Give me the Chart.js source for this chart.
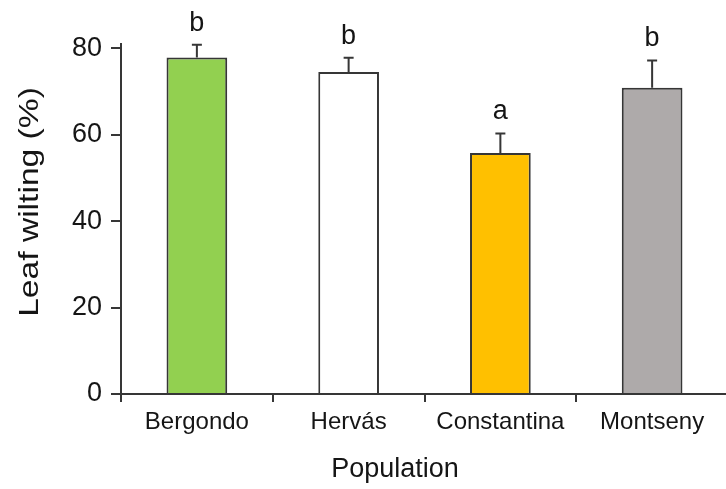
<!DOCTYPE html>
<html>
<head>
<meta charset="utf-8">
<script src="https://cdn.jsdelivr.net/npm/chart.js@4/dist/chart.umd.min.js"></script>
<style>
  html, body { margin: 0; padding: 0; overflow: hidden; background: #fff; }
  #wrap { position: relative; width: 730px; height: 489px; }
</style>
</head>
<body>
<div id="wrap"><canvas id="c"></canvas></div>
<script>
// Leaf wilting by population: means, upper standard errors and group letters
const populations = ['Bergondo', 'Hervás', 'Constantina', 'Montseny'];
const wiltingMean = [77.9, 74.5, 55.8, 70.9];
const wiltingErr = [2.9, 3.3, 4.5, 6.3];
const groupLetters = ['b', 'b', 'a', 'b'];
const barColors = ['#92D050', '#FFFFFF', '#FFC000', '#AEAAAA'];
const yTicks = [0, 20, 40, 60, 80];

const FONT = "'Liberation Sans', Arial, sans-serif";
const INK = '#151515';
const LINE = '#363636';

// Upper error whiskers plus significance letters above each bar
const errorBarPlugin = {
  id: 'errorBars',
  afterDatasetsDraw(chart) {
    const ctx = chart.ctx;
    const meta = chart.getDatasetMeta(0);
    const y = chart.scales.y;
    ctx.save();
    ctx.strokeStyle = LINE;
    ctx.lineWidth = 2;
    meta.data.forEach((bar, i) => {
      const yBar = y.getPixelForValue(wiltingMean[i]);
      const yTop = y.getPixelForValue(wiltingMean[i] + wiltingErr[i]);
      ctx.beginPath();
      ctx.moveTo(bar.x, yBar);
      ctx.lineTo(bar.x, yTop);
      ctx.moveTo(bar.x - 5, yTop);
      ctx.lineTo(bar.x + 5, yTop);
      ctx.stroke();
      ctx.fillStyle = INK;
      ctx.font = '27px ' + FONT;
      ctx.textAlign = 'center';
      ctx.textBaseline = 'alphabetic';
      ctx.fillText(groupLetters[i], bar.x, yTop - 14);
    });
    ctx.restore();
  }
};

// Axis titles
const axisTitlePlugin = {
  id: 'axisTitles',
  afterDraw(chart) {
    const ctx = chart.ctx;
    ctx.save();
    ctx.fillStyle = INK;
    ctx.font = '27px ' + FONT;
    ctx.textAlign = 'center';
    ctx.textBaseline = 'alphabetic';
    ctx.fillText('Population', 395, 477);
    ctx.font = '28px ' + FONT;
    ctx.translate(38, 202);
    ctx.rotate(-Math.PI / 2);
    ctx.scale(1.2, 1);
    ctx.fillText('Leaf wilting (%)', 0, 0);
    ctx.restore();
  }
};

new Chart(document.getElementById('c'), {
  type: 'bar',
  data: {
    labels: populations,
    datasets: [{
      data: wiltingMean,
      backgroundColor: barColors,
      borderColor: LINE,
      borderWidth: 2,
      barPercentage: 0.4,
      categoryPercentage: 1.0
    }]
  },
  options: {
    responsive: true,
    maintainAspectRatio: false,
    animation: false,
    layout: { padding: { top: 44, right: 2, left: 0, bottom: 0 } },
    plugins: { legend: { display: false }, tooltip: { enabled: false } },
    scales: {
      x: {
        offset: true,
        grid: {
          offset: true,
          drawOnChartArea: false,
          drawTicks: true,
          tickLength: 8,
          color: LINE,
          lineWidth: 2
        },
        border: { display: true, color: LINE, width: 2 },
        ticks: { color: INK, font: { family: FONT, size: 24 }, padding: 6 },
        afterFit(scale) { scale.height = 95; }
      },
      y: {
        min: 0,
        max: 81,
        afterBuildTicks(scale) { scale.ticks = yTicks.map(v => ({ value: v })); },
        grid: {
          drawOnChartArea: false,
          drawTicks: true,
          tickLength: 10,
          color: LINE,
          lineWidth: 2
        },
        border: { display: true, color: LINE, width: 2 },
        ticks: { color: INK, font: { family: FONT, size: 27 }, padding: 9 },
        afterFit(scale) { scale.width = 121; }
      }
    }
  },
  plugins: [errorBarPlugin, axisTitlePlugin]
});
</script>
</body>
</html>
